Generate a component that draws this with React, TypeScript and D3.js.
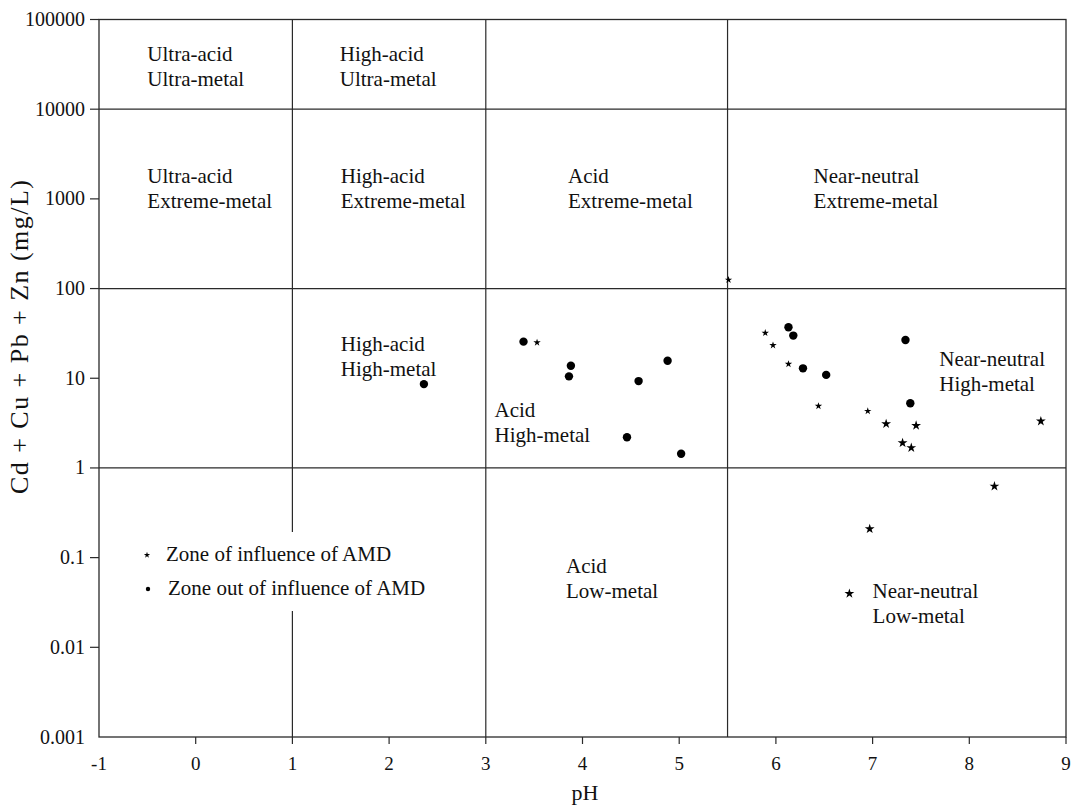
import React from 'react';
import * as d3 from 'd3';

// AMD-influenced samples (small stars)
const amdSmallPH = [5.51, 3.53, 5.89, 5.97, 6.13, 6.44, 6.95];
const amdSmallMetal = [125, 25, 32, 23.3, 14.4, 4.9, 4.3];
// AMD-influenced samples (larger stars)
const amdLargePH = [7.14, 7.45, 7.31, 7.4, 8.74, 8.26, 6.97, 6.76];
const amdLargeMetal = [3.1, 2.97, 1.9, 1.68, 3.32, 0.625, 0.209, 0.0397];
// samples out of AMD influence (dots)
const outPH = [2.36, 3.39, 3.88, 3.86, 4.58, 4.88, 4.46, 5.02, 6.13, 6.18, 6.28, 6.52, 7.34, 7.39];
const outMetal = [8.6, 25.6, 13.8, 10.5, 9.3, 15.7, 2.2, 1.44, 37, 29.9, 12.9, 10.9, 26.7, 5.26];

const xTicks = [-1, 0, 1, 2, 3, 4, 5, 6, 7, 8, 9];
const yTicks = [0.001, 0.01, 0.1, 1, 10, 100, 1000, 10000, 100000];
const yTickLabels = ['0.001', '0.01', '0.1', '1', '10', '100', '1000', '10000', '100000'];
const phBounds = [1, 3, 5.5];
const metalBounds = [1, 100, 10000];

// zone labels: pH, log10(metal) of first baseline
const zoneText = [
  ['Ultra-acid', 'Ultra-metal'],
  ['High-acid', 'Ultra-metal'],
  ['Ultra-acid', 'Extreme-metal'],
  ['High-acid', 'Extreme-metal'],
  ['Acid', 'Extreme-metal'],
  ['Near-neutral', 'Extreme-metal'],
  ['High-acid', 'High-metal'],
  ['Acid', 'High-metal'],
  ['Near-neutral', 'High-metal'],
  ['Acid', 'Low-metal'],
  ['Near-neutral', 'Low-metal'],
];
const zonePH = [-0.5, 1.49, -0.5, 1.5, 3.85, 6.39, 1.5, 3.09, 7.69, 3.83, 7.0];
const zoneLog = [4.54, 4.54, 3.174, 3.174, 3.174, 3.174, 1.308, 0.565, 1.137, -1.17, -1.449];

const font = '"Liberation Serif", "Times New Roman", serif';

export default function App() {
  const x = d3.scaleLinear().domain([-1, 9]).range([99, 1066]);
  const y = d3.scaleLog().domain([0.001, 100000]).range([737, 19.5]);
  const [x0, x1] = x.range();
  const [yb, yt] = y.range();
  const ink = '#2a2a2a';

  const starSmall = d3.symbol().type(d3.symbolStar).size(17)() as string;
  const starLarge = d3.symbol().type(d3.symbolStar).size(30)() as string;
  const starLegend = d3.symbol().type(d3.symbolStar).size(12)() as string;

  return (
    <svg width={1074} height={806} style={{ position: 'absolute', left: 0, top: 0, background: '#fff' }} fontFamily={font}>
      {/* zone boundaries */}
      {phBounds.map((p, i) => (
        <line key={'v' + i} x1={x(p)} x2={x(p)} y1={yt} y2={yb} stroke={ink} strokeWidth={1.2} />
      ))}
      {metalBounds.map((m, i) => (
        <line key={'h' + i} x1={x0} x2={x1} y1={y(m)} y2={y(m)} stroke={ink} strokeWidth={1.2} />
      ))}

      {/* legend box hides the boundary behind it */}
      <rect x={130} y={532} width={310} height={79} fill="#fff" />
      <path d={starLegend} transform={`translate(147,555)`} fill="#000" />
      <text x={166} y={561} fontSize={21} fill="#111">Zone of influence of AMD</text>
      <circle cx={148} cy={589} r={2.2} fill="#000" />
      <text x={168} y={595} fontSize={21} fill="#111">Zone out of influence of AMD</text>

      {/* frame */}
      <rect x={x0} y={yt} width={x1 - x0} height={yb - yt} fill="none" stroke={ink} strokeWidth={1.3} />

      {/* y axis */}
      {yTicks.map((t, i) => (
        <g key={'yt' + i}>
          {i > 0 && <line x1={x0 - 9} x2={x0} y1={y(t)} y2={y(t)} stroke={ink} strokeWidth={1.2} />}
          <text x={85} y={y(t) + 6.5} textAnchor="end" fontSize={20} fill="#111">{yTickLabels[i]}</text>
        </g>
      ))}
      {/* x axis */}
      {xTicks.map((t, i) => (
        <g key={'xt' + i}>
          {i > 0 && <line x1={x(t)} x2={x(t)} y1={yb} y2={yb + 7} stroke={ink} strokeWidth={1.2} />}
          <text x={x(t)} y={770} textAnchor="middle" fontSize={19} fill="#111">{t}</text>
        </g>
      ))}
      <text x={585} y={800} textAnchor="middle" fontSize={22} fill="#111">pH</text>
      <text transform={`translate(28,337) rotate(-90)`} textAnchor="middle" fontSize={26} fill="#111"
        textLength={314} lengthAdjust="spacing">
        Cd + Cu + Pb + Zn (mg/L)
      </text>

      {/* zone labels */}
      {zoneText.map((lines, i) => (
        <text key={'z' + i} x={x(zonePH[i])} y={y(Math.pow(10, zoneLog[i]))} fontSize={21} fill="#111">
          {lines.map((l, j) => (
            <tspan key={j} x={x(zonePH[i])} dy={j === 0 ? 0 : 25}>{l}</tspan>
          ))}
        </text>
      ))}

      {/* samples */}
      {outPH.map((p, i) => (
        <circle key={'o' + i} cx={x(p)} cy={y(outMetal[i])} r={4.2} fill="#000" />
      ))}
      {amdSmallPH.map((p, i) => (
        <path key={'s' + i} d={starSmall} transform={`translate(${x(p)},${y(amdSmallMetal[i])})`} fill="#000" />
      ))}
      {amdLargePH.map((p, i) => (
        <path key={'l' + i} d={starLarge} transform={`translate(${x(p)},${y(amdLargeMetal[i])})`} fill="#000" />
      ))}
    </svg>
  );
}
